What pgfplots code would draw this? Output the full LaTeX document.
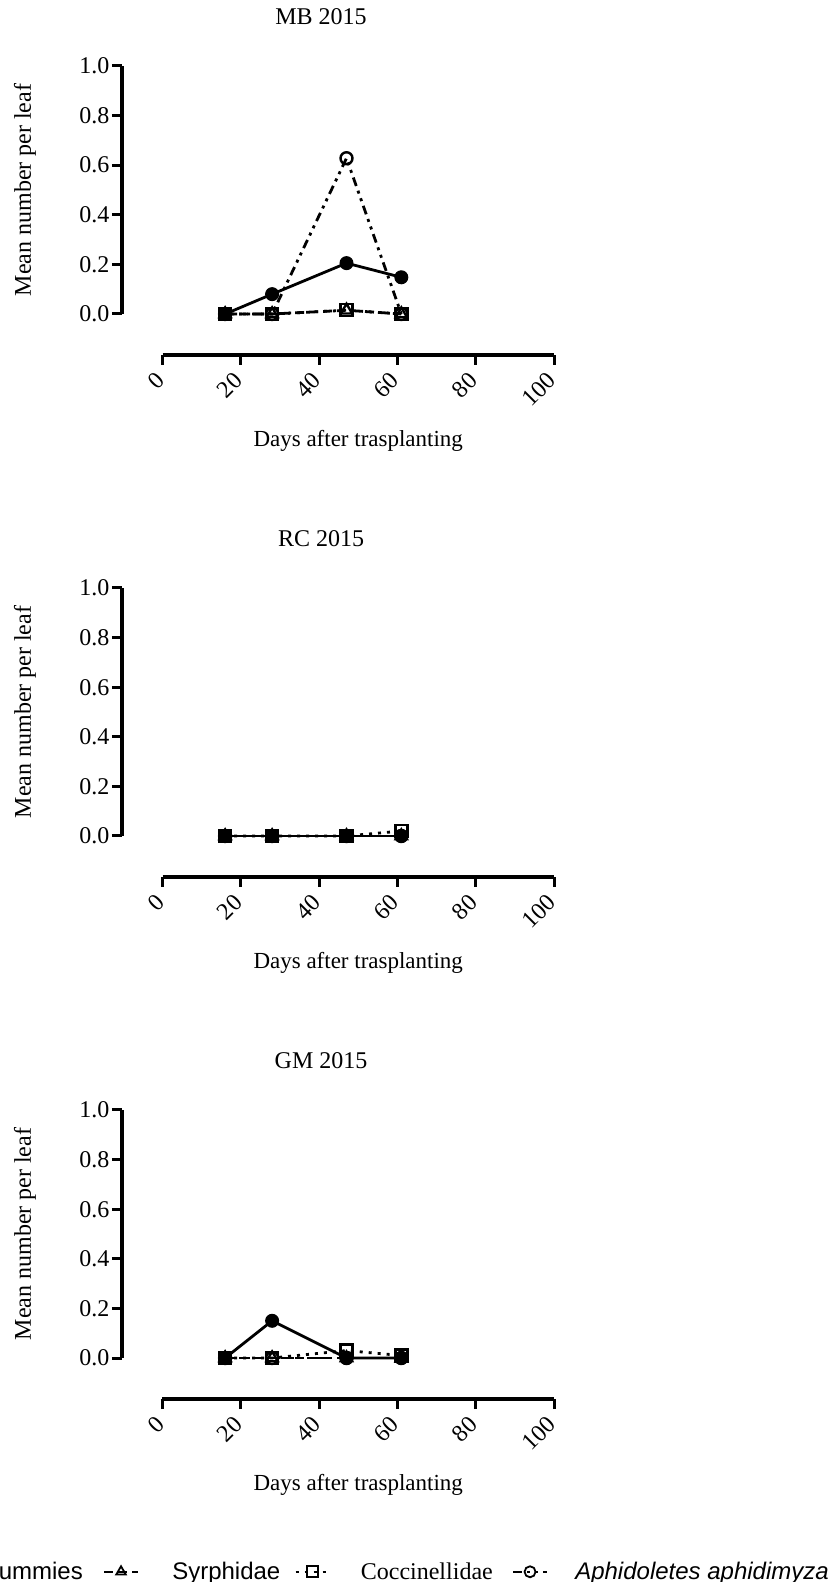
\documentclass[border=0pt]{standalone}
\usepackage{fontspec}
\setmainfont{Liberation Serif}
\setsansfont{Liberation Sans}
\usepackage{graphicx}
\usepackage{pgfplots}
\pgfplotsset{compat=1.18}

\pgfplotsset{
  prism/.style={
    scale only axis, width=391.5pt, height=248pt,
    xmin=0, xmax=100, ymin=0, ymax=1,
    axis x line*=bottom, axis y line*=left,
    axis x line shift=41pt, axis y line shift=40.5pt,
    axis line style={line width=3.5pt, -},
    xtick={0,20,40,60,80,100}, ytick={0,0.2,0.4,0.6,0.8,1},
    yticklabel style={/pgf/number format/.cd, fixed, fixed zerofill, precision=1},
    tick align=outside, major tick length=10pt,
    tick style={line width=3pt, black},
    clip=false,
    /pgf/number format/assume math mode=true,
    tick label style={font=\fontsize{24}{27}\selectfont},
    xticklabel style={rotate=45, anchor=east},
    xticklabel shift=9pt,
    yticklabel shift=-1pt,
    title style={at={(axis description cs:0.405,1)}, anchor=base, yshift=35pt, font=\fontsize{24}{27}\selectfont},
    xlabel={Days after trasplanting},
    ylabel={Mean number per leaf},
    xlabel style={at={(axis description cs:0.5,0)}, anchor=center, yshift=-127pt, font=\fontsize{23}{26}\selectfont},
    ylabel style={at={(axis description cs:-0.3512,0.5)}, anchor=center, font=\fontsize{24}{27}\selectfont},
    legend image code/.code={
      \draw[##1, line width=2.5pt] (0pt,0pt) -- (34pt,0pt);
      \draw[##1, mark size=5.5pt, every mark/.append style={line width=1.8pt}] plot coordinates {(17pt,0pt)};
    },
  },
  mum/.style={black, solid, line width=2.8pt, mark=*, mark size=6.5pt, mark options={solid, fill=black, line width=1pt}},
  syr/.style={black, line width=2.8pt, dash pattern=on 9pt off 5pt, mark=triangle, mark size=6.5pt, mark options={solid, line width=2.4pt}},
  coc/.style={black, line width=2.8pt, dash pattern=on 3pt off 6pt, mark=square, mark size=6pt, mark options={solid, line width=2.4pt}},
  aph/.style={black, line width=2.8pt, dash pattern=on 9pt off 5pt on 3pt off 5pt on 3pt off 5pt, mark=o, mark size=6pt, mark options={solid, line width=2.4pt}},
}

\begin{document}
\begin{tikzpicture}

% ---------- MB 2015 ----------
\begin{axis}[prism, at={(162.5pt,1268pt)}, anchor=south west, title={MB 2015}]
\addplot[mum] coordinates {(16,0) (28,0.08) (47,0.205) (61,0.148)};
\addplot[syr] coordinates {(16,0) (28,0) (47,0.015) (61,0)};
\addplot[coc] coordinates {(16,0) (28,0) (47,0.015) (61,0)};
\addplot[aph] coordinates {(16,0) (28,0) (47,0.628) (61,0)};
\end{axis}

% ---------- RC 2015 ----------
\begin{axis}[prism, at={(162.5pt,746pt)}, anchor=south west, title={RC 2015}]
\addplot[mum] coordinates {(16,0) (28,0) (47,0) (61,0)};
\addplot[syr] coordinates {(16,0) (28,0) (47,0) (61,0)};
\addplot[coc] coordinates {(16,0) (28,0) (47,0) (61,0.02)};
\addplot[aph] coordinates {(16,0) (28,0) (47,0) (61,0)};
\end{axis}

% ---------- GM 2015 ----------
\begin{axis}[prism, at={(162.5pt,224pt)}, anchor=south west, title={GM 2015},
  legend columns=4,
  legend style={draw=none, fill=none, inner sep=0pt, column sep=0pt,
    at={(axis description cs:1.7024,-0.862)}, anchor=east,
    nodes={inner sep=0pt, font=\fontsize{24}{27}\selectfont}},
]
\addplot[mum] coordinates {(16,0) (28,0.15) (47,0) (61,0)};
\addlegendentry{\rule{30pt}{0pt}\sffamily Mummies\rule{20pt}{0pt}}
\addplot[syr] coordinates {(16,0) (28,0) (47,0) (61,0)};
\addlegendentry{\rule{33pt}{0pt}\sffamily Syrphidae\rule{14pt}{0pt}}
\addplot[coc] coordinates {(16,0) (28,0) (47,0.03) (61,0.01)};
\addlegendentry{\rule{30pt}{0pt}\rmfamily Coccinellidae\rule{19pt}{0pt}}
\addplot[aph] coordinates {(16,0) (28,0) (47,0) (61,0)};
\addlegendentry{\rule{27pt}{0pt}\sffamily\itshape Aphidoletes aphidimyza}
\end{axis}

\pgfresetboundingbox
\path[use as bounding box] (0pt,0pt) rectangle (829pt,1582pt);
\end{tikzpicture}
\end{document}
